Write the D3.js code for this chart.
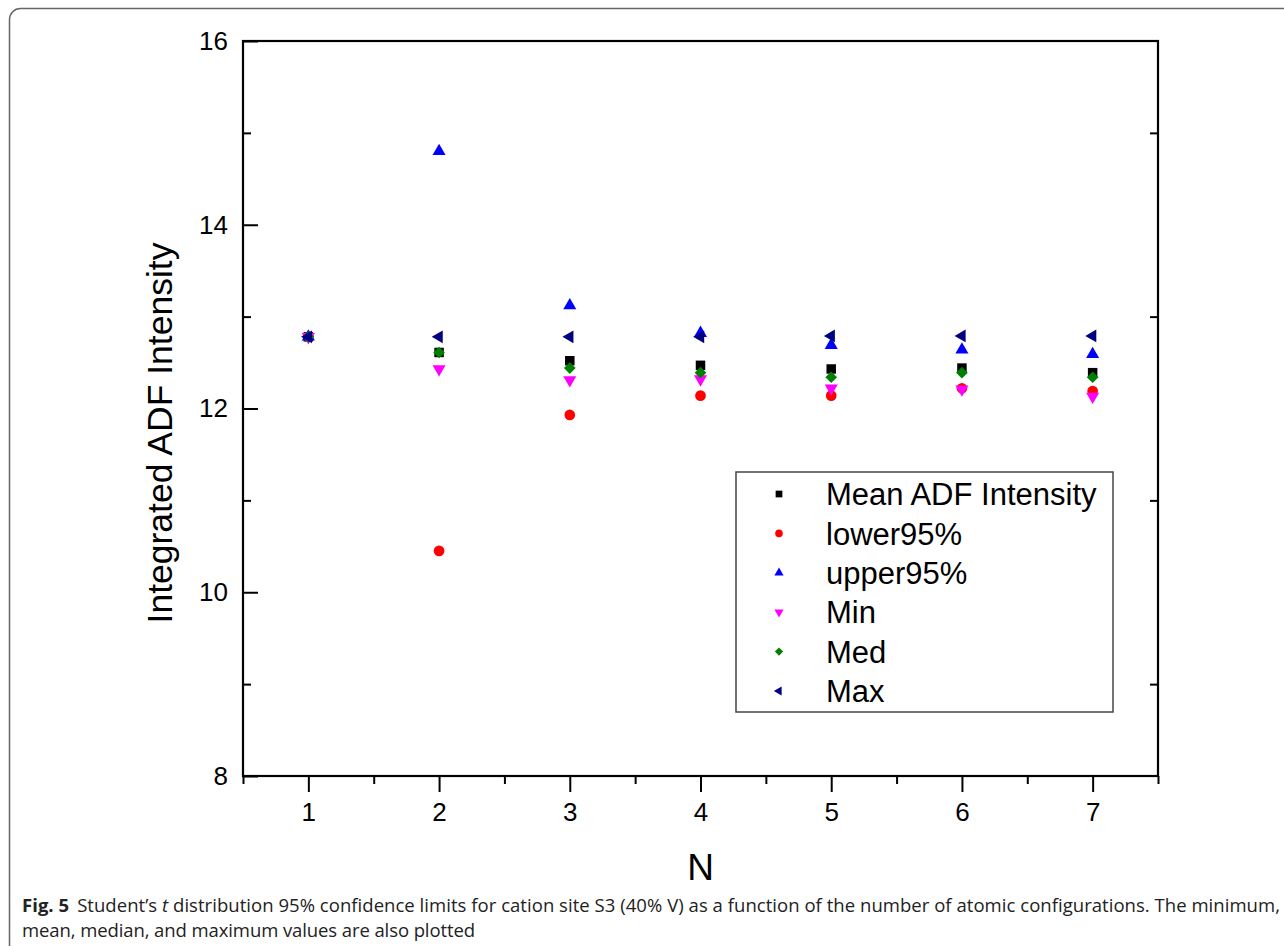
<!DOCTYPE html>
<html lang="en">
<head>
<meta charset="UTF-8" />
<script src="https://d3js.org/d3.v7.min.js"></script>
<style>
  body { margin: 0; background: #fff; }
  svg { display: block; }
  .tick text { font-family: "Liberation Sans", Arial, sans-serif; font-size: 26px; fill: #000; }
  .caption { font-family: "Open Sans", "Noto Sans", sans-serif; font-size: 18.5px; fill: #222; }
</style>
</head>
<body>
<script>
// N values on the x axis
var nValues = [1, 2, 3, 4, 5, 6, 7];

// series
var meanADF  = [12.78, 12.61, 12.52, 12.47, 12.43, 12.44, 12.39];
var lower95  = [12.78, 10.45, 11.93, 12.14, 12.14, 12.22, 12.19];
var upper95  = [12.78, 14.80, 13.12, 12.82, 12.69, 12.64, 12.59];
var minVals  = [12.78, 12.43, 12.31, 12.32, 12.22, 12.21, 12.13];
var medVals  = [12.78, 12.61, 12.44, 12.39, 12.34, 12.39, 12.34];
var maxVals  = [12.78, 12.78, 12.78, 12.78, 12.79, 12.79, 12.79];

var seriesNames = ["Mean ADF Intensity", "lower95%", "upper95%", "Min", "Med", "Max"];
var seriesValues = [meanADF, lower95, upper95, minVals, medVals, maxVals];
var seriesColors = ["#000000", "#ff0000", "#0000ff", "#ff00ff", "#008000", "#000080"];

var yMajorTicks = [8, 10, 12, 14, 16];
var yMinorTicks = [9, 11, 13, 15];
var xMinorTicks = [0.5, 1.5, 2.5, 3.5, 4.5, 5.5, 6.5, 7.5];

var W = 1284, H = 946;
var plotL = 243, plotR = 1158, plotT = 41, plotB = 776;

var svg = d3.select("body").append("svg").attr("width", W).attr("height", H);

// page border
svg.append("rect")
  .attr("x", 9.5).attr("y", 8.5)
  .attr("width", 1320).attr("height", 980)
  .attr("rx", 11)
  .attr("fill", "none").attr("stroke", "#666").attr("stroke-width", 1.5);

var x = d3.scaleLinear().domain([0.5, 7.5]).range([plotL, plotR]);
var y = d3.scaleLinear().domain([8, 16]).range([plotB, plotT]);

// axes
var gx = svg.append("g").attr("transform", "translate(0," + plotB + ")");
gx.call(d3.axisBottom(x).tickValues(nValues).tickSize(16).tickSizeOuter(0).tickPadding(11).tickFormat(d3.format("d")));
gx.append("g").call(d3.axisBottom(x).tickValues(xMinorTicks).tickSize(8).tickSizeOuter(0).tickFormat(""));

var gy = svg.append("g").attr("transform", "translate(" + plotL + ",0)");
gy.call(d3.axisLeft(y).tickValues(yMajorTicks).tickSize(-15).tickSizeOuter(0).tickPadding(15).tickFormat(d3.format("d")));
gy.append("g").call(d3.axisLeft(y).tickValues(yMinorTicks).tickSize(-8).tickSizeOuter(0).tickFormat(""));

var gr = svg.append("g").attr("transform", "translate(" + plotR + ",0)");
gr.call(d3.axisRight(y).tickValues(yMinorTicks).tickSize(-8).tickSizeOuter(0).tickFormat(""));

svg.selectAll(".domain").remove();
svg.selectAll(".tick line").attr("stroke", "#000").attr("stroke-width", 2);

// frame
svg.append("rect")
  .attr("x", plotL).attr("y", plotT)
  .attr("width", plotR - plotL).attr("height", plotB - plotT)
  .attr("fill", "none").attr("stroke", "#000").attr("stroke-width", 2.2);

// axis titles
svg.append("text")
  .attr("transform", "translate(172,433) rotate(-90)")
  .attr("text-anchor", "middle")
  .style("font-family", "Liberation Sans, Arial, sans-serif")
  .style("font-size", "35.5px")
  .text("Integrated ADF Intensity");

svg.append("text")
  .attr("x", x(4)).attr("y", 880)
  .attr("text-anchor", "middle")
  .style("font-family", "Liberation Sans, Arial, sans-serif")
  .style("font-size", "37px")
  .text("N");

// markers
function markerPath(i, scale) {
  var s = scale || 1;
  if (i == 0) return { d: d3.symbol(d3.symbolSquare, 90 * s)(), rot: 0 };
  if (i == 1) return { d: d3.symbol(d3.symbolCircle, 90 * s)(), rot: 0 };
  if (i == 2) return { d: d3.symbol(d3.symbolTriangle, 74 * s)(), rot: 0 };
  if (i == 3) return { d: d3.symbol(d3.symbolTriangle, 74 * s)(), rot: 180 };
  if (i == 4) return { d: d3.symbol(d3.symbolSquare, 68 * s)(), rot: 45 };
  return { d: d3.symbol(d3.symbolTriangle, 70 * s)(), rot: -90 };
}

seriesValues.forEach(function(vals, i) {
  var m = markerPath(i);
  svg.append("g").selectAll("path")
    .data(vals)
    .enter().append("path")
    .attr("d", m.d)
    .attr("transform", function(d, j) {
      return "translate(" + x(nValues[j]) + "," + y(d) + ") rotate(" + m.rot + ")";
    })
    .attr("fill", seriesColors[i]);
});

// legend
var lg = svg.append("g");
lg.append("rect")
  .attr("x", 736).attr("y", 472)
  .attr("width", 377).attr("height", 240)
  .attr("fill", "#fff").attr("stroke", "#444").attr("stroke-width", 1.5);

var ly = d3.scalePoint().domain(seriesNames).range([494, 691]);
seriesNames.forEach(function(name, i) {
  var m = markerPath(i, 0.5);
  lg.append("path")
    .attr("d", m.d)
    .attr("transform", "translate(779," + ly(name) + ") rotate(" + m.rot + ")")
    .attr("fill", seriesColors[i]);
  lg.append("text")
    .attr("x", 826).attr("y", ly(name))
    .attr("dy", "0.36em")
    .style("font-family", "Liberation Sans, Arial, sans-serif")
    .style("font-size", "31px")
    .text(name);
});

// caption
var cap1 = svg.append("text").attr("class", "caption").attr("x", 22).attr("y", 912);
cap1.append("tspan").style("font-weight", "bold").text("Fig. 5");
cap1.append("tspan").attr("dx", 8).text("Student’s ");
cap1.append("tspan").style("font-style", "italic").text("t");
cap1.append("tspan").text(" distribution 95% confidence limits for cation site S3 (40% V) as a function of the number of atomic configurations. The minimum,");

var cap2 = svg.append("text").attr("class", "caption").attr("x", 22).attr("y", 937)
  .text("mean, median, and maximum values are also plotted");

function fitWidth(sel, target) {
  var node = sel.node();
  var w = node.getComputedTextLength();
  var n = node.textContent.length;
  sel.style("letter-spacing", ((target - w) / n) + "px");
}
fitWidth(cap1, 1250);
fitWidth(cap2, 453);
</script>
</body>
</html>
